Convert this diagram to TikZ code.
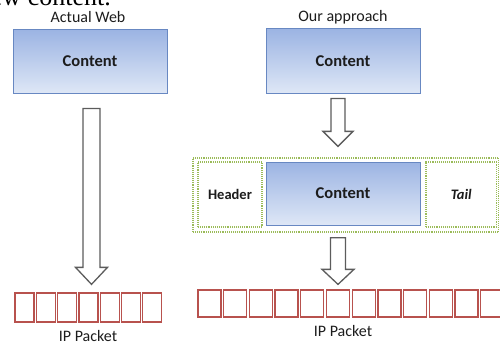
\documentclass[tikz,border=0pt]{standalone}
\usepackage{fontspec}
\setmainfont{Carlito}
\newfontfamily\bodyserif{Liberation Serif}
\usetikzlibrary{calc}

\definecolor{boxtop}{RGB}{156,180,227}
\definecolor{boxbot}{RGB}{222,231,246}
\definecolor{boxline}{RGB}{104,136,194}
\definecolor{pktline}{RGB}{184,82,78}
\definecolor{frameline}{RGB}{155,187,89}
\definecolor{arrowgray}{RGB}{92,92,92}
\definecolor{txt}{RGB}{28,28,28}

% block arrow: #1 top-centre, #2 tip, #3 shaft half width, #4 head half width, #5 head length
\newcommand{\blockarr}[5]{%
  \draw[arrowline] let \p1=(#1), \p2=(#2) in
    (\x1-#3pt,\y1) -- (\x1+#3pt,\y1) -- (\x1+#3pt,\y2+#5pt) -- (\x1+#4pt,\y2+#5pt)
    -- (\x1,\y2) -- (\x1-#4pt,\y2+#5pt) -- (\x1-#3pt,\y2+#5pt) -- cycle;}

\begin{document}
\begin{tikzpicture}[x=1pt,y=-1pt,
  every node/.style={text=txt},
  contentbox/.style={draw=boxline, line width=1pt, top color=boxtop, bottom color=boxbot,
    minimum width=154pt, minimum height=63pt, inner sep=0pt,
    font=\fontsize{16.5}{18}\selectfont\bfseries},
  caption/.style={font=\fontsize{16}{18}\selectfont, inner sep=0pt},
  pktbox/.style={draw=pktline, line width=1.3pt, fill=white, inner sep=0pt},
  dotbox/.style={draw=frameline, line width=1.3pt, dash pattern=on 1pt off 0.9pt, inner sep=0pt},
  sidelabel/.style={font=\fontsize{14.5}{16}\selectfont\bfseries},
  arrowline/.style={draw=arrowgray, line width=1.3pt, fill=white, line join=miter}
]
\useasboundingbox (0,0) rectangle (500,345);

\begin{scope}
  \clip (0,0) rectangle (500,345);
  % tail of the sentence above the figure
  \node[anchor=base east, inner sep=0pt, text=black, font=\bodyserif\fontsize{26}{28}\selectfont]
    (sent) at (111,6) {new content.};

  % left column: actual web
  \node[caption] (capL) at (88,17) {Actual Web};
  \node[contentbox] (c1) at (90,61.5) {Content};
  \foreach \i in {0,...,6} {
    \node[pktbox, minimum width=19pt, minimum height=29pt] (p\i) at ({24.5+21.3*\i},307.5) {};
  }
  \node[caption] (ipL) at (88,336) {IP Packet};

  % right column: our approach
  \node[caption] (capR) at (343,17) {Our approach};
  \node[contentbox, minimum height=64pt] (c2) at (343,61) {Content};

  \node[dotbox, minimum width=305.5pt, minimum height=74pt] (pkg) at (345.75,195) {};
  \node[dotbox, minimum width=64pt, minimum height=65pt, sidelabel] (hdr) at (230,194.5) {Header};
  \node[contentbox] (c3) at (343,193.5) {Content};
  \node[dotbox, minimum width=70.5pt, minimum height=65pt, sidelabel, font=\fontsize{14.5}{16}\selectfont\bfseries\itshape] (tail) at (461.25,194.5) {Tail};

  \foreach \i in {0,...,11} {
    \node[pktbox, minimum width=23pt, minimum height=27pt] (q\i) at ({209.5+25.7*\i},303.5) {};
  }
  \node[caption] (ipR) at (343,331) {IP Packet};

  % arrows
  \coordinate (a1s) at ($(c1.south)+(1.5,15)$);
  \coordinate (a1e) at ($(p3.north)+(3,-8)$);
  \coordinate (a2s) at ($(c2.south)+(-5,5)$);
  \coordinate (a2e) at ($(pkg.north)+(-7.75,-11)$);
  \coordinate (a3s) at ($(pkg.south)+(-7.75,5)$);
  \coordinate (a3e) at ($(q5.north)+(0,-5)$);
  \blockarr{a1s}{a1e}{8.5}{16}{17}
  \blockarr{a2s}{a2e}{7}{15}{15}
  \blockarr{a3s}{a3e}{7.5}{16}{15}
\end{scope}
\end{tikzpicture}
\end{document}
